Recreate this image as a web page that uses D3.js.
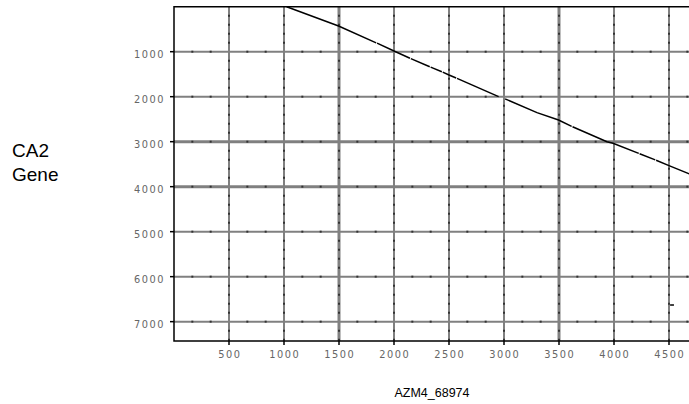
<!DOCTYPE html>
<head>
    <meta charset="utf-8">
    <title>CA2 Gene vs AZM4_68974</title>
    <style>
        body { margin: 0; background: #fff; }
        .tick-label { font-family: "DejaVu Sans", sans-serif; font-size: 9.8px; fill: #666; letter-spacing: 1.5px; }
        .title { font-family: "Liberation Sans", Arial, sans-serif; fill: #000; }
    </style>
</head>

<body>
    <script src="https://cdnjs.cloudflare.com/ajax/libs/d3/7.8.5/d3.min.js"></script>
    <svg width="689" height="404"></svg>
</body>

<script>
    // tick values on each axis
    var xTicks = [500, 1000, 1500, 2000, 2500, 3000, 3500, 4000, 4500];
    var yTicks = [1000, 2000, 3000, 4000, 5000, 6000, 7000];
    // grid lines drawn heavier
    var xHeavy = [1500, 3500];
    var yHeavy = [3000, 4000];

    // match runs (AZM4_68974 position, CA2 Gene position), broken where the dots stop
    var matchRuns = [
        [[1024, 0], [1496, 430], [1838, 803]],
        [[1846, 811], [2000, 985], [2145, 1145]],
        [[2153, 1153], [2325, 1335]],
        [[2333, 1343], [2435, 1445]],
        [[2443, 1453], [2500, 1518], [2565, 1585]],
        [[2573, 1593], [2951, 2000]],
        [[3010, 2050], [3300, 2355], [3496, 2518], [3615, 2660]],
        [[3623, 2668], [3936, 3000], [3991, 3036], [4225, 3260]],
        [[4233, 3268], [4375, 3405]],
        [[4383, 3413], [4500, 3533], [4750, 3780]],
        [[4510, 6630], [4545, 6630]]
    ];

    var svg = d3.select("svg");

    var x = d3.scaleLinear().domain([0, 4750]).range([174, 696.5]);
    var y = d3.scaleLinear().domain([0, 7430]).range([6.7, 341]);

    var x0 = x(0), x1 = x.range()[1], y0 = y(0), y1 = y.range()[1];

    // grid lines
    var grid = svg.append("g");
    grid.selectAll("line.v")
        .data(xTicks)
        .enter().append("line")
        .attr("x1", d => x(d)).attr("x2", d => x(d))
        .attr("y1", y0).attr("y2", y1)
        .attr("stroke", "#808080")
        .attr("stroke-width", d => xHeavy.indexOf(d) >= 0 ? 3 : 2);
    grid.selectAll("line.h")
        .data(yTicks)
        .enter().append("line")
        .attr("x1", x0).attr("x2", x1)
        .attr("y1", d => y(d)).attr("y2", d => y(d))
        .attr("stroke", "#808080")
        .attr("stroke-width", d => yHeavy.indexOf(d) >= 0 ? 3 : 2);

    // small dark marks along the grid lines
    var xMinor = d3.range(500 / 3, 4750, 500 / 3).filter(v => Math.abs(v % 500) > 1 && Math.abs(v % 500 - 500) > 1);
    var yMinor = d3.range(200, 7430, 200).filter(v => v % 1000 !== 0);
    yTicks.forEach(function (t) {
        grid.selectAll(null)
            .data(xMinor)
            .enter().append("line")
            .attr("x1", d => x(d) - 1).attr("x2", d => x(d) + 1)
            .attr("y1", y(t)).attr("y2", y(t))
            .attr("stroke", "#333").attr("stroke-width", 2);
    });
    xTicks.forEach(function (t) {
        grid.selectAll(null)
            .data(yMinor)
            .enter().append("line")
            .attr("x1", x(t)).attr("x2", x(t))
            .attr("y1", d => y(d) - 1).attr("y2", d => y(d) + 1)
            .attr("stroke", "#333").attr("stroke-width", 2);
    });

    // frame (right side runs off the page)
    svg.append("path")
        .attr("d", "M" + x1 + "," + y0 + "H" + x0 + "V" + y1 + "H" + x1)
        .attr("fill", "none")
        .attr("stroke", "#000")
        .attr("stroke-width", 1.5);

    // axis ticks and labels
    svg.selectAll("line.xt")
        .data(xTicks)
        .enter().append("line")
        .attr("x1", d => x(d)).attr("x2", d => x(d))
        .attr("y1", y1).attr("y2", y1 + 4)
        .attr("stroke", "#000").attr("stroke-width", 1.5);
    svg.selectAll("text.xl")
        .data(xTicks)
        .enter().append("text")
        .attr("class", "tick-label")
        .attr("x", d => x(d) + 0.8)
        .attr("y", 358)
        .attr("text-anchor", "middle")
        .text(d => d);

    svg.selectAll("line.yt")
        .data(yTicks)
        .enter().append("line")
        .attr("x1", x0 - 4).attr("x2", x0)
        .attr("y1", d => y(d)).attr("y2", d => y(d))
        .attr("stroke", "#000").attr("stroke-width", 1.5);
    svg.selectAll("text.yl")
        .data(yTicks)
        .enter().append("text")
        .attr("class", "tick-label")
        .attr("x", 165)
        .attr("y", d => y(d) + 6.5)
        .attr("text-anchor", "end")
        .text(d => d);

    // dot plot matches
    var line = d3.line().x(d => x(d[0])).y(d => y(d[1]));
    svg.selectAll("path.run")
        .data(matchRuns)
        .enter().append("path")
        .attr("d", line)
        .attr("fill", "none")
        .attr("stroke", "#000")
        .attr("stroke-width", 1.5);

    // axis titles
    svg.append("text")
        .attr("class", "title")
        .attr("x", 432).attr("y", 397)
        .attr("text-anchor", "middle")
        .style("font-size", "12.5px")
        .text("AZM4_68974");
    var yt = svg.append("text")
        .attr("class", "title")
        .attr("x", 12).attr("y", 157)
        .style("font-size", "19px");
    yt.append("tspan").attr("x", 12).text("CA2");
    yt.append("tspan").attr("x", 12).attr("dy", 24).text("Gene");
</script>
